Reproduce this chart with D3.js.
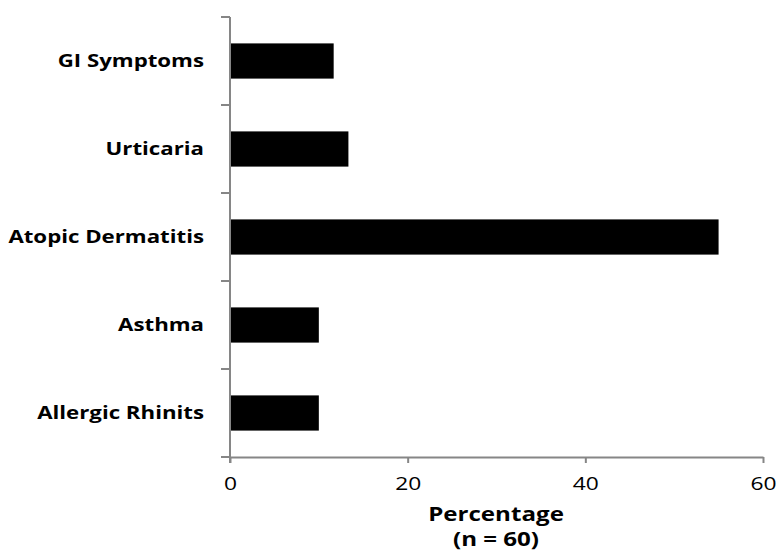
<!DOCTYPE html>
<html>
<head>
<meta charset="utf-8">
<script src="https://cdn.jsdelivr.net/npm/d3@7"></script>
<style>
  body { margin: 0; background: #fff; }
  svg { font-family: "Open Sans", sans-serif; }
</style>
</head>
<body>
<div id="chart"></div>
<script>
const categories = ['GI Symptoms', 'Urticaria', 'Atopic Dermatitis', 'Asthma', 'Allergic Rhinits']
const values = [11.67, 13.33, 55, 10, 10]
const xTicks = [0, 20, 40, 60]

const w = 779
const h = 552
const padLeft = 230
const padTop = 17
const plotW = 533
const plotH = 440
const stretch = 'scale(1.27,1)'   // the original text is drawn wide

const xScale = d3.scaleLinear()
                .domain([0, 60])
                .range([padLeft, padLeft + plotW])
const yScale = d3.scaleBand()
                .domain(categories)
                .range([padTop, padTop + plotH])
                .paddingInner(0.6)
                .paddingOuter(0.3)

const svg = d3.select('#chart')
                .append('svg')
                .attr('width', w)
                .attr('height', h)

// bars
svg.selectAll('rect')
   .data(categories)
   .enter()
   .append('rect')
   .attr('x', xScale(0))
   .attr('y', d => yScale(d))
   .attr('width', (d, i) => xScale(values[i]) - xScale(0))
   .attr('height', yScale.bandwidth())
   .attr('fill', '#000')

// x axis
const xAxis = svg.append('g')
   .attr('transform', `translate(0,${padTop + plotH})`)
   .call(d3.axisBottom(xScale).tickValues(xTicks).tickSize(6).tickPadding(14).tickSizeOuter(0))
xAxis.select('.domain').attr('stroke', '#868686').attr('stroke-width', 2)
xAxis.selectAll('.tick line').attr('stroke', '#868686').attr('stroke-width', 2)
xAxis.selectAll('.tick text').attr('font-size', 19).attr('fill', '#000')
   .attr('font-family', '"Open Sans", sans-serif')
   .attr('transform', 'scale(1.2,1)')

// y axis: ticks between categories
const yEdges = d3.range(categories.length + 1).map(i => padTop + i * plotH / categories.length)
const yAxis = svg.append('g')
yAxis.append('line')
   .attr('x1', padLeft).attr('x2', padLeft)
   .attr('y1', yEdges[0]).attr('y2', yEdges[yEdges.length - 1] + 6)
   .attr('stroke', '#868686').attr('stroke-width', 2)
yAxis.selectAll('.ytick')
   .data(yEdges)
   .enter()
   .append('line')
   .attr('x1', padLeft - 9).attr('x2', padLeft)
   .attr('y1', d => d).attr('y2', d => d)
   .attr('stroke', '#868686').attr('stroke-width', 2)
yAxis.selectAll('.ylabel')
   .data(categories)
   .enter()
   .append('text')
   .attr('transform', d => `translate(204,${yScale(d) + yScale.bandwidth() / 2}) ${stretch}`)
   .attr('dy', '0.35em')
   .attr('text-anchor', 'end')
   .attr('font-size', 17.5)
   .attr('font-weight', 'bold')
   .text(d => d)

// axis title
const title = svg.append('text')
   .attr('transform', `translate(496,0) ${stretch}`)
   .attr('text-anchor', 'middle')
   .attr('font-size', 19)
   .attr('font-weight', 'bold')
title.append('tspan').attr('x', 0).attr('y', 521).text('Percentage')
title.append('tspan').attr('x', 0).attr('y', 546).text('(n = 60)')
</script>
</body>
</html>
